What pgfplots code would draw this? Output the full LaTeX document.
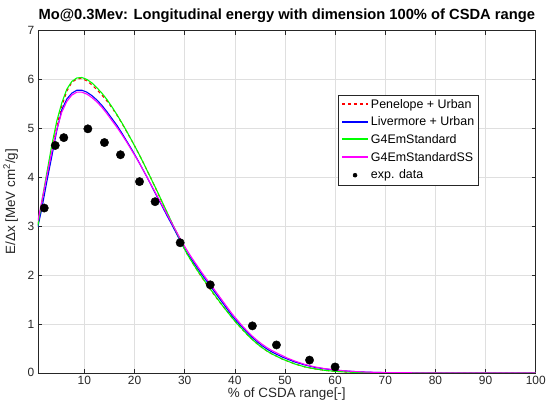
\documentclass[border=0pt]{standalone}
\usepackage{fontspec}
\setmainfont{Liberation Sans}
\usepackage{pgfplots}
\pgfplotsset{compat=1.18}
\usepackage{pgfplotstable}

% Monte Carlo curves, x = % of CSDA range
\pgfplotstableread{
x y
0.72 3.02
1.5 3.42
2.5 3.98
3.5 4.52
4.5 5.05
5.5 5.45
6.5 5.76
7.5 5.94
8.5 6.01
9.5 6.02
10.5 5.97
11.5 5.89
12.5 5.79
13.5 5.68
14.5 5.56
15.5 5.42
16.5 5.27
17.5 5.10
18.5 4.92
19.5 4.74
20.5 4.55
21.5 4.35
22.5 4.14
23.5 3.93
24.5 3.71
25.5 3.49
26.5 3.27
27.5 3.05
28.5 2.84
29.5 2.63
30.5 2.43
31.5 2.26
32.5 2.10
33.5 1.94
34.5 1.79
35.5 1.65
36.5 1.51
37.5 1.38
38.5 1.25
39.5 1.12
40.5 1.00
41.5 0.89
42.5 0.78
43.5 0.68
44.5 0.59
45.5 0.51
46.5 0.44
47.5 0.38
48.5 0.33
49.5 0.28
50.5 0.24
52 0.18
54 0.12
56 0.08
58 0.05
60 0.03
62 0.018
64 0.01
66 0.005
68 0.002
70 0
100 0
}\penelope

\pgfplotstableread{
x y
0.72 2.98
1.5 3.35
2.5 3.90
3.5 4.42
4.5 4.95
5.5 5.38
6.5 5.60
7.5 5.72
8.5 5.78
9.5 5.78
10.5 5.74
11.5 5.67
12.5 5.58
13.5 5.47
14.5 5.34
15.5 5.20
16.5 5.06
17.5 4.90
18.5 4.73
19.5 4.56
20.5 4.38
21.5 4.19
22.5 4.00
23.5 3.80
24.5 3.60
25.5 3.41
26.5 3.21
27.5 3.02
28.5 2.82
29.5 2.62
30.5 2.45
31.5 2.30
32.5 2.15
33.5 2.00
34.5 1.86
35.5 1.72
36.5 1.58
37.5 1.44
38.5 1.30
39.5 1.16
40.5 1.04
41.5 0.93
42.5 0.82
43.5 0.72
44.5 0.63
45.5 0.55
46.5 0.48
47.5 0.42
48.5 0.37
49.5 0.32
50.5 0.28
52 0.22
54 0.16
56 0.11
58 0.08
60 0.055
62 0.038
64 0.025
66 0.015
68 0.008
70 0.004
72 0.002
75 0
100 0
}\livermore

\pgfplotstableread{
x y
0.72 3.00
1.5 3.50
2.5 4.08
3.5 4.65
4.5 5.15
5.5 5.52
6.5 5.80
7.5 5.96
8.5 6.03
9.5 6.04
10.5 6.00
11.5 5.93
12.5 5.83
13.5 5.72
14.5 5.59
15.5 5.44
16.5 5.28
17.5 5.11
18.5 4.93
19.5 4.74
20.5 4.55
21.5 4.35
22.5 4.14
23.5 3.93
24.5 3.72
25.5 3.50
26.5 3.28
27.5 3.06
28.5 2.85
29.5 2.63
30.5 2.43
31.5 2.26
32.5 2.10
33.5 1.95
34.5 1.80
35.5 1.66
36.5 1.52
37.5 1.38
38.5 1.25
39.5 1.12
40.5 1.00
41.5 0.89
42.5 0.78
43.5 0.68
44.5 0.59
45.5 0.51
46.5 0.44
47.5 0.38
48.5 0.33
49.5 0.28
50.5 0.24
52 0.18
54 0.12
56 0.08
58 0.05
60 0.03
62 0.018
64 0.01
66 0.005
68 0.002
70 0
100 0
}\standard

\pgfplotstableread{
x y
0.72 3.10
1.5 3.50
2.5 4.02
3.5 4.52
4.5 4.98
5.5 5.33
6.5 5.55
7.5 5.68
8.5 5.74
9.5 5.74
10.5 5.70
11.5 5.63
12.5 5.54
13.5 5.43
14.5 5.30
15.5 5.16
16.5 5.02
17.5 4.87
18.5 4.71
19.5 4.54
20.5 4.37
21.5 4.19
22.5 4.00
23.5 3.81
24.5 3.62
25.5 3.43
26.5 3.24
27.5 3.05
28.5 2.86
29.5 2.67
30.5 2.50
31.5 2.34
32.5 2.19
33.5 2.04
34.5 1.90
35.5 1.76
36.5 1.62
37.5 1.48
38.5 1.34
39.5 1.20
40.5 1.08
41.5 0.96
42.5 0.85
43.5 0.75
44.5 0.66
45.5 0.58
46.5 0.51
47.5 0.45
48.5 0.40
49.5 0.35
50.5 0.30
52 0.24
54 0.17
56 0.12
58 0.085
60 0.06
62 0.04
64 0.026
66 0.016
68 0.009
70 0.005
73 0.002
76 0
100 0
}\standardss

\pgfplotstableread{
x y
2.0 3.37
4.2 4.65
5.9 4.81
10.7 4.99
14.0 4.71
17.2 4.46
21.0 3.91
24.1 3.50
29.1 2.66
35.1 1.80
43.5 0.96
48.3 0.57
54.9 0.26
60.0 0.12
}\expdata

\definecolor{axgray}{gray}{0.15}
\definecolor{mred}{rgb}{1,0,0}
\definecolor{mblue}{rgb}{0,0,1}
\definecolor{mgreen}{rgb}{0,1,0}
\definecolor{mmag}{rgb}{1,0,1}

\begin{document}
\begin{tikzpicture}
\begin{axis}[
    scale only axis,
    width=499bp, height=343bp,
    xmin=0.72, xmax=100, ymin=0, ymax=7,
    xtick={10,20,...,100},
    ytick={0,1,...,7},
    tick align=inside,
    major tick length=4bp,
    grid=major,
    major grid style={gray!25, line width=0.5pt},
    axis line style={axgray, line width=0.5pt},
    every tick/.style={axgray, line width=0.5pt},
    tick label style={font=\fontsize{12}{14}\selectfont, text=axgray,
        /pgf/number format/assume math mode=true},
    title={\bfseries Mo@0.3Mev: Longitudinal energy with dimension 100\% of CSDA range},
    title style={font=\fontsize{14.8}{16}\selectfont, yshift=-2bp},
    xlabel={\% of CSDA range[-]},
    ylabel={E/Δx [MeV cm\textsuperscript{2}/g]},
    label style={font=\fontsize{13.5}{15}\selectfont, text=axgray},
    xlabel style={yshift=3.5bp},
    ylabel style={yshift=3bp},
    legend cell align=left,
    legend style={at={(0.886,0.813)}, anchor=north east,
        font=\fontsize{12.5}{15}\selectfont, draw=axgray, line width=0.5pt,
        row sep=3.2bp, inner sep=2.5bp},
    legend image code/.code={%
        \draw[#1, line width=2pt] (0bp,0.5bp) -- (26bp,0.5bp);},
]
\addplot[mred, dashed, line width=1.1pt] table[x=x,y=y] {\penelope};
\addlegendentry{Penelope + Urban}
\addplot[mblue, line width=1.1pt] table[x=x,y=y] {\livermore};
\addlegendentry{Livermore + Urban}
\addplot[mgreen, line width=1.1pt] table[x=x,y=y] {\standard};
\addlegendentry{G4EmStandard}
\addplot[mmag, line width=1.1pt] table[x=x,y=y] {\standardss};
\addlegendentry{G4EmStandardSS}
\addplot[only marks, mark=*, mark size=4.2bp, black,
    legend image code/.code={\fill[black] (13bp,0bp) circle (2bp);}]
    table[x=x,y=y] {\expdata};
\addlegendentry{exp. data}
\end{axis}
% blank margin above the title, as in the reference
\path ([yshift=6bp]current axis.outer north);
\end{tikzpicture}
\end{document}
